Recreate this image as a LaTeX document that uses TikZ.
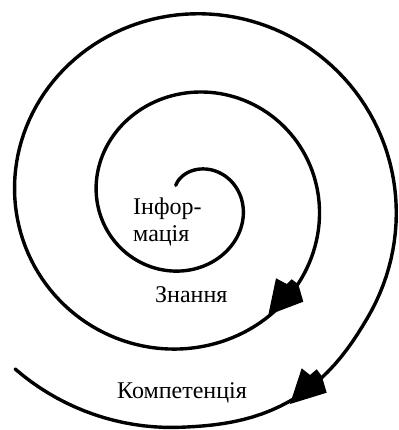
\documentclass[tikz,border=0pt]{standalone}
\usepackage{fontspec}
\setmainfont{Liberation Serif}

\begin{document}
\begin{tikzpicture}[x=1pt,y=-1pt,line join=round,line cap=round,
    word/.style={font=\fontsize{24}{27}\selectfont,inner sep=0pt}]
    \useasboundingbox (0,0) rectangle (398,430);
    % spiral, from the centre outwards (small bulge near the outer arrow)
    \draw[line width=3.4pt] plot[domain=-2.29:14.92,samples=400,variable=\t]
      ({190-0.4*\t+(52+12.65*\t+5*(max(0,1-((\t-13.65)/0.5)^2))^2)*cos(\t r)},
       {201+(49.4+12.5*\t+5*(max(0,1-((\t-13.65)/0.5)^2))^2)*sin(\t r)});
    % arrow heads
    \fill (268.3,315) -- (276,278.3) -- (286.7,284) -- (291.7,279.3) -- (298.3,284.3) -- (303.3,301.7) -- cycle;
    \fill (290,404) -- (301.7,368.3) -- (310,375) -- (316.7,369.3) -- (321.7,376) -- (326.7,392.7) -- cycle;
    \node[word,anchor=north west,align=left] (info) at (133,198) {Інфор-\\мація};
    \node[word,anchor=base west] (know) at (155,302) {Знання};
    \node[word,anchor=base west] (comp) at (117,398) {Компетенція};
\end{tikzpicture}
\end{document}
